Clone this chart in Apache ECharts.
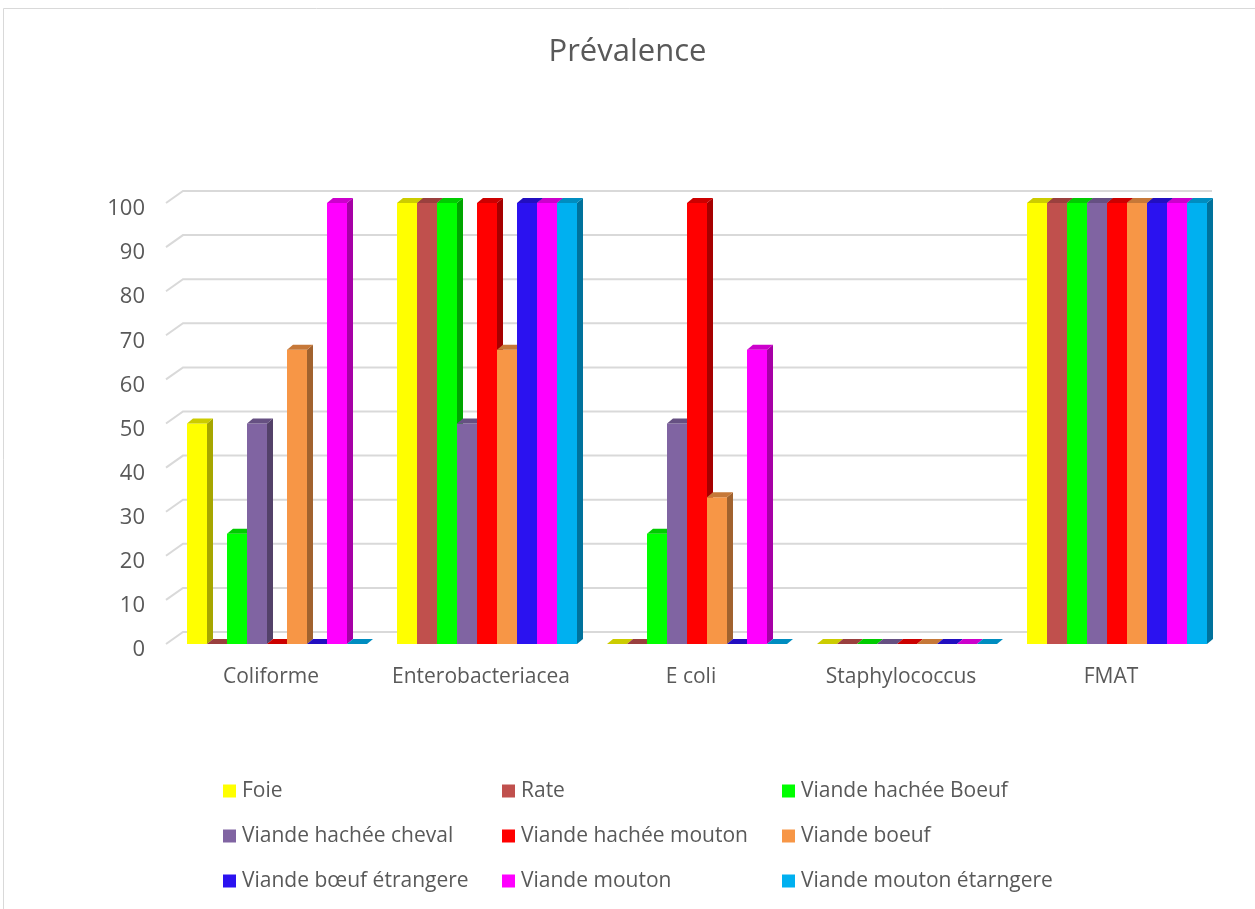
<!DOCTYPE html>
<html>
<head>
<meta charset="utf-8">
<script src="https://cdn.jsdelivr.net/npm/echarts@6/dist/echarts.min.js"></script>
<style>
  html, body { margin: 0; padding: 0; background: #fff; }
  #chart { width: 1255px; height: 909px; }
</style>
</head>
<body>
<div id="chart"></div>
<script>
// catégories et valeurs (%)
const categories = ['Coliforme', 'Enterobacteriacea', 'E coli', 'Staphylococcus', 'FMAT'];
const seriesNames = [
  'Foie', 'Rate', 'Viande hachée Boeuf',
  'Viande hachée cheval', 'Viande hachée mouton', 'Viande boeuf',
  'Viande bœuf étrangere', 'Viande mouton', 'Viande mouton étarngere'
];
const foie = [50, 100, 0, 0, 100];
const rate = [0, 100, 0, 0, 100];
const vhBoeuf = [25, 100, 25, 0, 100];
const vhCheval = [50, 50, 50, 0, 100];
const vhMouton = [0, 100, 100, 0, 100];
const viandeBoeuf = [66.7, 66.7, 33.3, 0, 100];
const boeufEtrangere = [0, 100, 0, 0, 100];
const viandeMouton = [100, 100, 66.7, 0, 100];
const moutonEtrangere = [0, 100, 0, 0, 100];
const seriesValues = [foie, rate, vhBoeuf, vhCheval, vhMouton, viandeBoeuf, boeufEtrangere, viandeMouton, moutonEtrangere];
const yTicks = [0, 10, 20, 30, 40, 50, 60, 70, 80, 90, 100];

const COLORS = ['#FFFF00', '#C0504D', '#00FF00', '#8064A2', '#FF0000', '#F79646', '#2B12F0', '#FF00FF', '#00B0F0'];
const TXT = '#595959';
const FONT = 'Open Sans';

// profondeur "3D" façon Excel
const DX = 6, DY = 5;
// mur du fond : décalage des lignes de quadrillage
const WX = 17, WY = 12;

function shade(hex, f) {
  const n = parseInt(hex.slice(1), 16);
  const r = Math.round(((n >> 16) & 255) * f);
  const g = Math.round(((n >> 8) & 255) * f);
  const b = Math.round((n & 255) * f);
  return `rgb(${r},${g},${b})`;
}

const chart = echarts.init(document.getElementById('chart'));

const barSeries = seriesNames.map((name, s) => ({
  name,
  type: 'custom',
  z: 3,
  itemStyle: { color: COLORS[s] },
  data: seriesValues[s].map((v, c) => [c, v]),
  encode: { x: 0, y: 1 },
  renderItem: (params, api) => {
    const c = api.value(0);
    const v = api.value(1);
    const base = api.coord([c, 0]);
    const top = api.coord([c, v]);
    const band = api.size([1, 0])[0];
    const bw = band * 20 / 210;
    const x0 = base[0] - 4.5 * bw + s * bw + 6;
    const color = COLORS[s];
    return {
      type: 'group',
      children: [
        {
          type: 'rect',
          shape: { x: x0, y: top[1], width: bw, height: base[1] - top[1] },
          style: { fill: color },
        },
        {
          type: 'polygon',
          shape: { points: [[x0 + bw, top[1]], [x0 + bw + DX, top[1] - DY], [x0 + bw + DX, base[1] - DY], [x0 + bw, base[1]]] },
          style: { fill: shade(color, 0.65) },
        },
        {
          type: 'polygon',
          shape: { points: [[x0, top[1]], [x0 + bw, top[1]], [x0 + bw + DX, top[1] - DY], [x0 + DX, top[1] - DY]] },
          style: { fill: shade(color, 0.8) },
        },
      ],
    };
  },
}));

// quadrillage en perspective (mur du fond)
const wallSeries = {
  type: 'custom',
  silent: true,
  z: 1,
  data: yTicks.map(v => [0, v]),
  encode: { x: 0, y: 1 },
  renderItem: (params, api) => {
    const y = api.coord([0, api.value(1)])[1];
    const cs = params.coordSys;
    return {
      type: 'polyline',
      shape: { points: [[cs.x, y], [cs.x + WX, y - WY], [cs.x + cs.width - 4, y - WY]] },
      style: { stroke: '#D9D9D9', lineWidth: 2, fill: null },
    };
  },
};

const legendCols = [
  ['Foie', 'Viande hachée cheval', 'Viande bœuf étrangere'],
  ['Rate', 'Viande hachée mouton', 'Viande mouton'],
  ['Viande hachée Boeuf', 'Viande boeuf', 'Viande mouton étarngere'],
];
const legendLeft = [218, 497, 777];

chart.setOption({
  animation: false,
  backgroundColor: '#fff',
  textStyle: { fontFamily: FONT },
  title: {
    text: 'Prévalence',
    left: 'center',
    top: 32,
    textStyle: { fontSize: 31, fontWeight: 'normal', color: TXT, fontFamily: FONT },
  },
  graphic: [{
    type: 'rect',
    silent: true,
    shape: { x: 3.5, y: 8.5, width: 1280, height: 940 },
    style: { fill: null, stroke: '#D9D9D9', lineWidth: 1 },
  }],
  legend: legendCols.map((col, i) => ({
    orient: 'vertical',
    left: legendLeft[i],
    top: 775,
    icon: 'rect',
    itemWidth: 13,
    itemHeight: 13,
    itemGap: 23,
    textStyle: { fontSize: 21, color: TXT, fontFamily: FONT, lineHeight: 22, padding: [0, 0, 0, 1] },
    data: col,
  })),
  grid: { left: 166, right: 39, top: 203, bottom: 265 },
  xAxis: {
    type: 'category',
    data: categories,
    axisLine: { show: false },
    axisTick: { show: false },
    axisLabel: { fontSize: 21, color: TXT, margin: 23, interval: 0 },
  },
  yAxis: {
    type: 'value',
    min: 0,
    max: 100,
    interval: 10,
    axisLine: { show: false },
    axisTick: { show: false },
    splitLine: { show: false },
    axisLabel: { fontSize: 22, color: TXT, margin: 21, verticalAlign: 'top', lineHeight: 12 },
  },
  series: [wallSeries, ...barSeries],
});
</script>
</body>
</html>
